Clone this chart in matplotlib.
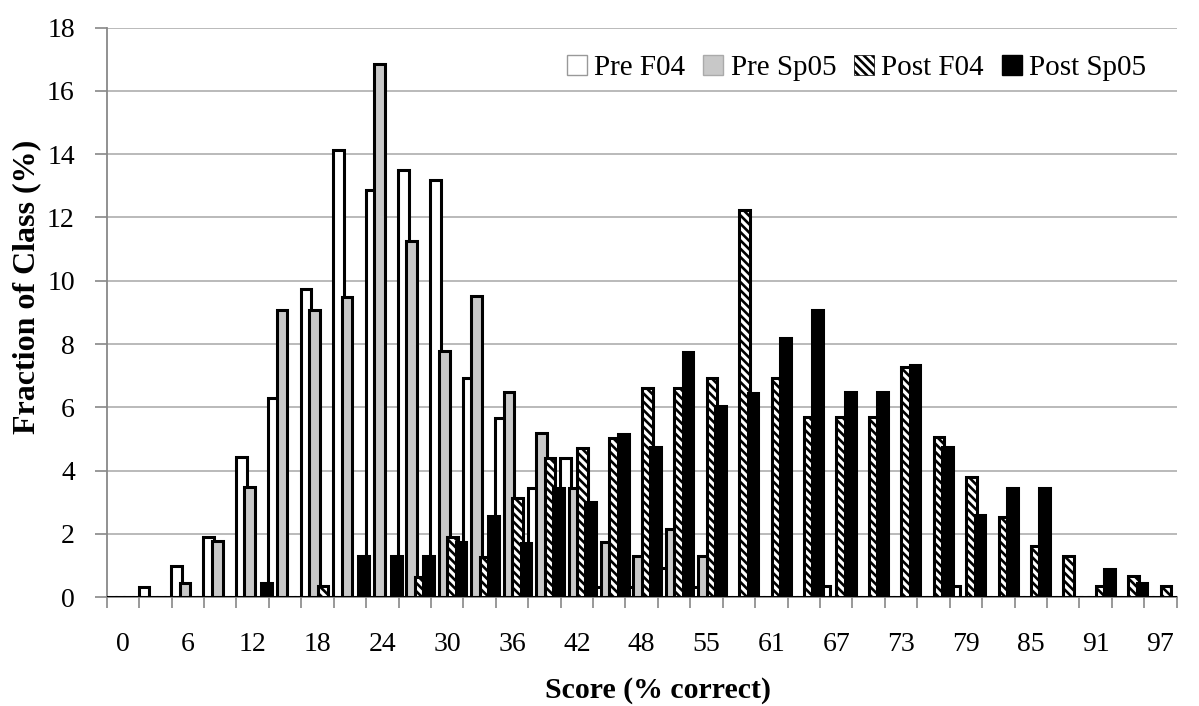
import matplotlib
matplotlib.use("Agg")
import matplotlib.pyplot as plt
from matplotlib.patches import Patch

plt.rcParams['font.family'] = ['Liberation Serif', 'DejaVu Serif']
plt.rcParams['hatch.linewidth'] = 1.9

# 33 score categories (k/33 of questions correct)
n_cats = 33
tick_labels = ["0", "6", "12", "18", "24", "30", "36", "42", "48",
               "55", "61", "67", "73", "79", "85", "91", "97"]

pre_f04 = [0, 0.33, 0.98, 1.91, 4.43, 6.29, 9.74, 14.12, 12.88, 13.51, 13.19,
           6.94, 5.66, 3.46, 4.41, 0.31, 0.31, 0.94, 0.31, 0, 0,
           0, 0.36, 0, 0, 0, 0.36, 0, 0, 0, 0, 0, 0]
pre_sp05 = [0, 0, 0.46, 1.78, 3.47, 9.08, 9.07, 9.50, 16.84, 11.25, 7.78,
            9.52, 6.48, 5.20, 3.46, 1.75, 1.31, 2.17, 1.31, 0, 0,
            0, 0, 0, 0, 0, 0, 0, 0, 0, 0, 0, 0]
post_f04 = [0, 0, 0, 0, 0, 0, 0.35, 0, 0, 0.65, 1.90,
            1.28, 3.15, 4.41, 4.73, 5.04, 6.60, 6.60, 6.93, 12.25, 6.93,
            5.69, 5.69, 5.69, 7.26, 5.06, 3.80, 2.55, 1.61, 1.31, 0.37, 0.67, 0.36]
post_sp05 = [0, 0, 0, 0, 0.44, 0, 0, 1.31, 1.31, 1.31, 1.74,
             2.58, 1.73, 3.44, 3.02, 5.17, 4.75, 7.74, 6.04, 6.46, 8.19,
             9.07, 6.47, 6.47, 7.33, 4.76, 2.59, 3.46, 3.46, 0, 0.88, 0.44, 0]

series = [
    ("Pre F04", pre_f04, dict(facecolor="white", edgecolor="black")),
    ("Pre Sp05", pre_sp05, dict(facecolor="#c8c8c8", edgecolor="black")),
    ("Post F04", post_f04, dict(facecolor="white", edgecolor="black", hatch="\\\\\\\\")),
    ("Post Sp05", post_sp05, dict(facecolor="black", edgecolor="black")),
]

fig = plt.figure(figsize=(11.99, 7.06), dpi=100)
ax = fig.add_axes([0.089, 0.154, 0.8924, 0.807])

x = list(range(n_cats))
bw = 0.33
step = 0.26
for j, (name, vals, style) in enumerate(series):
    off = (j - 1.5) * step + 0.04
    ax.bar([xi + off for xi in x], vals, width=bw, linewidth=2.2, zorder=3 + j, **style)

ax.set_xlim(-0.5, n_cats - 0.5)
ax.set_ylim(0, 18)
ax.set_yticks(range(0, 19, 2))
ax.tick_params(axis='y', labelsize=20, length=9, width=1.2, color="#888888", pad=14, direction='out')
ax.set_xticks(list(range(0, n_cats, 2)))
ax.set_xticklabels(tick_labels)
ax.set_xticks([i - 0.5 for i in range(n_cats + 1)], minor=True)
ax.tick_params(axis='x', which='major', labelsize=20, length=0, pad=25)
ax.tick_params(axis='x', which='minor', length=8, width=1.2, color="#888888", direction='out')

ax.yaxis.grid(True, color="#b4b4b4", linewidth=1.3, zorder=0)
ax.set_axisbelow(True)
for s in ("top", "right"):
    ax.spines[s].set_visible(False)
for s in ("left", "bottom"):
    ax.spines[s].set_color("#888888")
    ax.spines[s].set_linewidth(1.3)

fig.text(0.0225, 0.594, "Fraction of Class (%)", rotation=90, ha="center", va="center",
         fontsize=23, fontweight="bold")
fig.text(0.549, 0.022, "Score (% correct)", ha="center", va="center",
         fontsize=21.5, fontweight="bold")

handles = [
    Patch(facecolor="white", edgecolor="#999999", linewidth=1),
    Patch(facecolor="#c8c8c8", edgecolor="#aaaaaa", linewidth=1),
    Patch(facecolor="white", edgecolor="black", linewidth=0.5, hatch="\\\\\\\\"),
    Patch(facecolor="black", edgecolor="black", linewidth=1),
]
fig.legend(handles, [s[0] for s in series], loc="center right",
           bbox_to_anchor=(0.978, 0.904), ncol=4, frameon=False, fontsize=21,
           handlelength=0.7, handleheight=0.7, handletextpad=0.25, columnspacing=0.6)

fig.savefig("out.png", dpi=100)
